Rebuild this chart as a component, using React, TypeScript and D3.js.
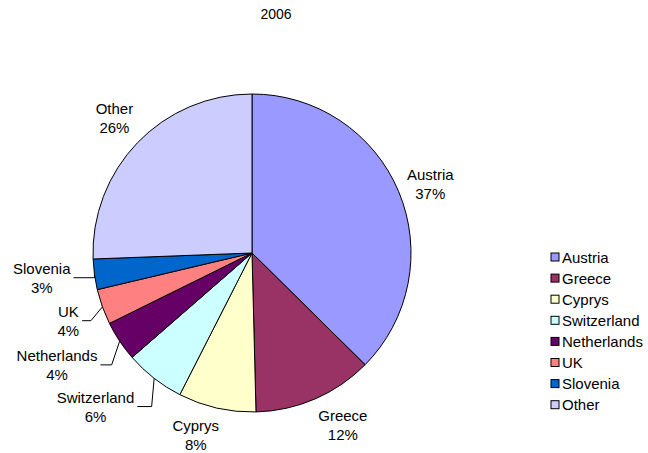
import React from "react";
import * as d3 from "d3";

const title = "2006";
const categories = ["Austria", "Greece", "Cyprys", "Switzerland", "Netherlands", "UK", "Slovenia", "Other"];
const values = [37.4, 12.2, 7.9, 6.1, 4.1, 3.6, 3.1, 25.6];
const colors = ["#9999FF", "#993366", "#FFFFCC", "#CCFFFF", "#660066", "#FF8080", "#0066CC", "#CCCCFF"];

// label layout: nudge from default polar label position, and whether a leader line is drawn
const labelNudge: [number, number][] = [[2, 5], [15, -3], [-14, -4], [-39, 3], [-36, 6], [-4, 3], [-21, -1], [0, -3]];
const leaderElbow: (number | null)[] = [null, null, null, 2.5, 8, 11.5, 0, null];

const W = 648, H = 453;
const cx = 252, cy = 253, R = 159;
const FONT = "Liberation Sans, Arial, sans-serif";
const FS = 15;

function measure(text: string, size: number) {
  const c = document.createElement("canvas").getContext("2d");
  if (!c) return text.length * size * 0.55;
  c.font = `${size}px "Liberation Sans", Arial, sans-serif`;
  return c.measureText(text).width;
}

export default function App() {
  const total = d3.sum(values);
  const pie = d3.pie<number>().sort(null).value((d) => d)(values);
  const arc = d3.arc<d3.PieArcDatum<number>>().innerRadius(0).outerRadius(R);
  const fmt = (v: number) => `${Math.round((v / total) * 100)}%`;
  const polar = (a: number, r: number): [number, number] => [Math.sin(a) * r, -Math.cos(a) * r];

  return (
    <svg width={W} height={H} style={{ display: "block", position: "absolute", left: 0, top: 0 }} fontFamily={FONT}>
      <rect width={W} height={H} fill="#fff" />
      <text x={276} y={19} textAnchor="middle" fontSize={14}>{title}</text>
      <g transform={`translate(${cx},${cy})`}>
        {pie.map((p, i) => (
          <path key={i} d={arc(p) || ""} fill={colors[i]} stroke="#000" strokeWidth={1} />
        ))}
        {pie.map((p, i) => {
          const mid = (p.startAngle + p.endAngle) / 2;
          const [bx, by] = polar(mid, R + 32);
          const lx = bx + labelNudge[i][0];
          const ly = by + labelNudge[i][1];
          const l1 = categories[i];
          const l2 = fmt(p.value);
          const wMax = Math.max(measure(l1, FS), measure(l2, FS));
          let leader = null;
          if (leaderElbow[i] !== null) {
            const [ex, ey] = polar(mid, R);
            const ax = lx + wMax / 2 + 3;
            const elx = ex - (leaderElbow[i] as number);
            const lineY = ly;
            leader = (
              <polyline
                points={`${ax},${lineY} ${elx},${lineY} ${ex},${ey}`}
                fill="none"
                stroke="#000"
                strokeWidth={1}
              />
            );
          }
          return (
            <g key={"l" + i}>
              {leader}
              <text x={lx} y={ly - 4} textAnchor="middle" fontSize={FS}>{l1}</text>
              <text x={lx} y={ly + 15} textAnchor="middle" fontSize={FS}>{l2}</text>
            </g>
          );
        })}
      </g>
      <g transform="translate(551,253)">
        {categories.map((c, i) => (
          <g key={c} transform={`translate(0,${i * 21.1})`}>
            <rect x={0} y={0} width={8} height={8} fill={colors[i]} stroke="#000" strokeWidth={1} />
            <text x={11} y={9.5} fontSize={FS}>{c}</text>
          </g>
        ))}
      </g>
    </svg>
  );
}
